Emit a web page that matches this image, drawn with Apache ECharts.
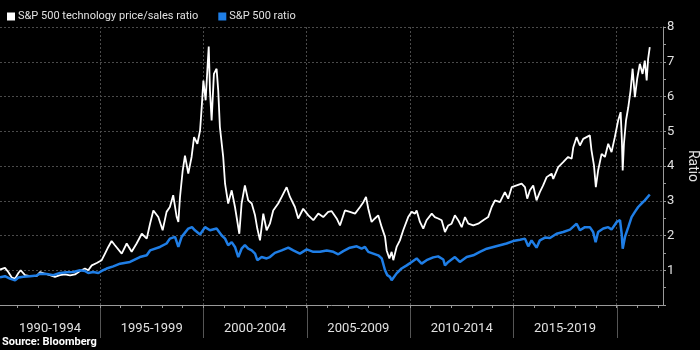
<!DOCTYPE html>
<html>
<head>
<meta charset="utf-8">
<script src="https://cdn.jsdelivr.net/npm/echarts@6/dist/echarts.min.js"></script>
<style>
  html, body { margin: 0; padding: 0; background: #000; }
  #main { width: 700px; height: 350px; }
</style>
</head>
<body>
<div id="main"></div>
<script>
// values (decimal year, ratio)
const techYears = [1990.16, 1990.40, 1990.56, 1990.73, 1990.89, 1991.05, 1991.16, 1991.37, 1991.61, 1991.94,
  1992.10, 1992.34, 1992.58, 1992.82, 1993.06, 1993.30, 1993.55, 1993.79, 1994.03, 1994.27,
  1994.43, 1994.60, 1994.84, 1995.08, 1995.24, 1995.40, 1995.56, 1995.72, 1995.81, 1996.05,
  1996.29, 1996.53, 1996.77, 1997.02, 1997.26, 1997.42, 1997.58, 1997.82, 1998.03, 1998.22,
  1998.38, 1998.54, 1998.71, 1998.79, 1998.87, 1999.00, 1999.11, 1999.27, 1999.43, 1999.55,
  1999.71, 1999.84, 1999.92, 2000.00, 2000.11, 2000.21, 2000.26, 2000.32, 2000.40, 2000.51,
  2000.64, 2000.72, 2000.80, 2000.96, 2001.05, 2001.20, 2001.37, 2001.53, 2001.74, 2001.85,
  2002.01, 2002.17, 2002.34, 2002.50, 2002.61, 2002.74, 2002.90, 2003.06, 2003.22, 2003.38,
  2003.62, 2003.79, 2004.03, 2004.19, 2004.43, 2004.59, 2004.83, 2005.08, 2005.32, 2005.56,
  2005.80, 2006.04, 2006.21, 2006.45, 2006.61, 2006.85, 2007.09, 2007.34, 2007.58, 2007.74,
  2007.87, 2007.98, 2008.14, 2008.30, 2008.46, 2008.63, 2008.79, 2008.87, 2009.00, 2009.11,
  2009.19, 2009.35, 2009.51, 2009.67, 2009.91, 2010.08, 2010.24, 2010.32, 2010.48, 2010.64,
  2010.80, 2011.05, 2011.20, 2011.36, 2011.53, 2011.69, 2011.85, 2012.01, 2012.17, 2012.33,
  2012.50, 2012.66, 2012.82, 2013.06, 2013.30, 2013.54, 2013.78, 2013.95, 2014.11, 2014.35,
  2014.59, 2014.75, 2014.92, 2015.16, 2015.40, 2015.56, 2015.67, 2015.80, 2015.96, 2016.12,
  2016.28, 2016.44, 2016.61, 2016.85, 2016.93, 2017.17, 2017.41, 2017.65, 2017.82, 2017.90,
  2018.06, 2018.22, 2018.38, 2018.54, 2018.70, 2018.78, 2018.90, 2018.99, 2019.10, 2019.27,
  2019.43, 2019.59, 2019.75, 2019.91, 2020.07, 2020.19, 2020.25, 2020.29, 2020.35, 2020.45,
  2020.56, 2020.67, 2020.77, 2020.88, 2020.99, 2021.12, 2021.25, 2021.36, 2021.45, 2021.52,
  2021.60]
const techRatio = [1.02, 1.07, 0.95, 0.79, 0.76, 0.92, 1.00, 0.86, 0.83, 0.84,
  0.95, 0.90, 0.86, 0.81, 0.86, 0.88, 0.85, 0.88, 0.98, 1.05,
  1.00, 1.14, 1.21, 1.29, 1.48, 1.67, 1.84, 1.72, 1.67, 1.48,
  1.77, 1.53, 1.77, 2.05, 1.91, 2.34, 2.72, 2.53, 2.15, 2.68,
  2.82, 3.16, 2.53, 2.39, 3.11, 3.87, 4.30, 3.78, 4.26, 4.83,
  4.64, 5.02, 5.69, 6.46, 5.89, 6.94, 7.44, 6.17, 5.31, 6.65,
  6.80, 6.17, 5.12, 4.26, 3.49, 2.92, 3.30, 2.82, 2.05, 2.92,
  3.44, 3.01, 2.92, 2.58, 2.20, 1.86, 2.63, 2.15, 2.34, 2.72,
  2.92, 3.11, 3.39, 3.11, 2.82, 2.49, 2.77, 2.58, 2.44, 2.63,
  2.53, 2.68, 2.70, 2.49, 2.29, 2.72, 2.68, 2.63, 2.82, 2.96,
  3.11, 2.77, 2.39, 2.49, 2.58, 2.24, 1.96, 1.57, 1.34, 1.53,
  1.29, 1.67, 1.86, 2.15, 2.53, 2.68, 2.63, 2.72, 2.39, 2.20,
  2.44, 2.63, 2.53, 2.49, 2.44, 2.10, 2.29, 2.34, 2.58, 2.44,
  2.24, 2.53, 2.34, 2.29, 2.34, 2.44, 2.53, 2.82, 3.01, 2.96,
  3.25, 3.06, 3.39, 3.44, 3.49, 3.39, 3.06, 3.30, 3.44, 3.01,
  3.25, 3.44, 3.68, 3.78, 3.63, 3.97, 4.11, 4.26, 4.21, 4.54,
  4.83, 4.59, 4.78, 4.83, 4.88, 4.45, 4.02, 3.39, 3.87, 4.35,
  4.26, 4.64, 4.40, 4.83, 5.31, 5.55, 4.74, 3.87, 4.64, 5.31,
  5.69, 6.17, 6.80, 5.98, 6.51, 6.94, 6.65, 7.03, 6.46, 7.08,
  7.42]

const spxYears = [1990.16, 1990.40, 1990.64, 1990.89, 1991.05, 1991.29, 1991.61, 1991.94, 1992.10, 1992.42,
  1992.74, 1993.06, 1993.39, 1993.71, 1994.03, 1994.27, 1994.43, 1994.67, 1994.92, 1995.08,
  1995.32, 1995.64, 1995.97, 1996.45, 1996.93, 1997.26, 1997.42, 1997.90, 1998.22, 1998.38,
  1998.63, 1998.79, 1998.95, 1999.27, 1999.45, 1999.59, 1999.84, 2000.08, 2000.32, 2000.64,
  2000.89, 2001.05, 2001.20, 2001.37, 2001.53, 2001.69, 2001.85, 2002.01, 2002.17, 2002.34,
  2002.50, 2002.61, 2002.82, 2003.06, 2003.22, 2003.46, 2003.79, 2004.11, 2004.35, 2004.67,
  2005.00, 2005.32, 2005.64, 2005.97, 2006.29, 2006.53, 2006.77, 2007.09, 2007.42, 2007.66,
  2007.82, 2007.98, 2008.22, 2008.46, 2008.63, 2008.79, 2008.90, 2009.03, 2009.11, 2009.19,
  2009.35, 2009.59, 2009.84, 2010.08, 2010.32, 2010.56, 2010.80, 2011.12, 2011.36, 2011.61,
  2011.69, 2011.85, 2012.17, 2012.41, 2012.74, 2013.06, 2013.38, 2013.71, 2014.03, 2014.35,
  2014.67, 2014.99, 2015.32, 2015.56, 2015.72, 2015.88, 2016.12, 2016.28, 2016.53, 2016.77,
  2017.09, 2017.41, 2017.74, 2018.06, 2018.22, 2018.46, 2018.70, 2018.86, 2018.98, 2019.10,
  2019.35, 2019.59, 2019.75, 2020.00, 2020.16, 2020.24, 2020.29, 2020.40, 2020.56, 2020.72,
  2020.88, 2021.04, 2021.20, 2021.36, 2021.60]
const spxRatio = [0.80, 0.83, 0.76, 0.71, 0.79, 0.81, 0.83, 0.85, 0.90, 0.89,
  0.86, 0.92, 0.94, 0.95, 1.00, 0.98, 0.92, 0.95, 0.92, 0.98,
  1.05, 1.11, 1.19, 1.24, 1.38, 1.43, 1.57, 1.67, 1.77, 1.91,
  1.96, 1.67, 1.96, 2.20, 2.24, 2.15, 2.03, 2.24, 2.15, 2.20,
  2.00, 1.91, 1.72, 1.81, 1.67, 1.38, 1.62, 1.72, 1.62, 1.57,
  1.48, 1.29, 1.38, 1.34, 1.38, 1.50, 1.57, 1.65, 1.57, 1.48,
  1.60, 1.53, 1.53, 1.57, 1.53, 1.46, 1.55, 1.65, 1.69, 1.62,
  1.67, 1.53, 1.48, 1.43, 1.34, 1.00, 0.86, 0.81, 0.71, 0.73,
  0.91, 1.05, 1.14, 1.24, 1.34, 1.19, 1.29, 1.37, 1.40, 1.31,
  1.14, 1.24, 1.38, 1.24, 1.38, 1.43, 1.53, 1.62, 1.67, 1.72,
  1.77, 1.84, 1.88, 1.91, 1.69, 1.86, 1.65, 1.86, 1.94, 1.93,
  2.05, 2.10, 2.17, 2.34, 2.15, 2.24, 2.24, 2.10, 1.81, 2.10,
  2.20, 2.24, 2.17, 2.39, 2.44, 2.05, 1.62, 1.96, 2.24, 2.53,
  2.68, 2.82, 2.92, 3.01, 3.18]

const periodLabels = ['1990-1994', '1995-1999', '2000-2004', '2005-2009', '2010-2014', '2015-2019']
const periodCenters = [1992.58, 1997.5, 2002.5, 2007.5, 2012.5, 2017.5]
const periodBreaks = [1995, 2000, 2005, 2010, 2015, 2020]
const yearTicks = []
for (let y = 1991; y <= 2022; y++) yearTicks.push(y)

const xMin = 1990.16
const xMax = 2022.24
const font = 'Roboto, "Liberation Sans", sans-serif'

function periodLabel (v) {
  let best = 0
  periodCenters.forEach((c, i) => {
    if (Math.abs(c - v) < Math.abs(periodCenters[best] - v)) best = i
  })
  return periodLabels[best]
}

const chart = echarts.init(document.getElementById('main'))

const option = {
  backgroundColor: '#000',
  animation: false,
  textStyle: { fontFamily: font },
  legend: {
    left: 2,
    top: 6,
    itemWidth: 8,
    itemHeight: 8,
    itemGap: 20,
    icon: 'rect',
    textStyle: { color: '#e0e0e0', fontSize: 11, fontFamily: font, padding: [0, 0, 0, -2] },
    data: ['S&P 500 technology price/sales ratio', 'S&P 500 ratio']
  },
  grid: { left: 0, right: 37, top: 27, bottom: 45, containLabel: false, outerBoundsMode: 'none' },
  xAxis: [
    {
      type: 'value',
      min: xMin,
      max: xMax,
      axisLine: { show: true, lineStyle: { color: '#9a9a9a', width: 1 } },
      axisTick: { show: true, length: 3, customValues: yearTicks, lineStyle: { color: '#9a9a9a' } },
      axisLabel: {
        show: true,
        customValues: periodCenters,
        margin: 17,
        color: '#e0e0e0',
        fontSize: 13,
        fontFamily: font,
        hideOverlap: false,
        showMinLabel: true,
        showMaxLabel: true,
        formatter: v => periodLabel(v)
      },
      splitLine: { show: false }
    },
    {
      type: 'value',
      min: xMin,
      max: xMax,
      axisLine: { show: false },
      axisTick: { show: false, customValues: periodBreaks },
      axisLabel: { show: false },
      splitLine: { show: true, lineStyle: { color: '#4a4a4a', type: [2, 2] } }
    }
  ],
  yAxis: {
    type: 'value',
    position: 'right',
    min: 0,
    max: 8,
    interval: 1,
    name: 'Ratio',
    nameLocation: 'middle',
    nameRotate: -90,
    nameGap: 21,
    nameTextStyle: { color: '#e0e0e0', fontSize: 14, fontFamily: font },
    axisLine: { show: true, lineStyle: { color: '#9a9a9a' } },
    axisTick: { show: true, length: 3, lineStyle: { color: '#9a9a9a' } },
    minorTick: { show: true, splitNumber: 2, length: 3, lineStyle: { color: '#9a9a9a' } },
    axisLabel: {
      color: '#e0e0e0',
      fontSize: 13,
      fontFamily: font,
      margin: 4,
      formatter: v => (v === 0 ? '' : v)
    },
    splitLine: { show: true, lineStyle: { color: '#4a4a4a', type: [2, 2] } }
  },
  series: [
    {
      name: 'S&P 500 technology price/sales ratio',
      type: 'line',
      xAxisIndex: 0,
      symbol: 'none',
      color: '#ffffff',
      lineStyle: { width: 1.8, color: '#ffffff' },
      data: techYears.map((y, i) => [y, techRatio[i]])
    },
    {
      name: 'S&P 500 ratio',
      type: 'line',
      xAxisIndex: 0,
      symbol: 'none',
      color: '#1f7ee6',
      lineStyle: { width: 2.5, color: '#1f7ee6' },
      data: spxYears.map((y, i) => [y, spxRatio[i]])
    }
  ]
}

chart.setOption(option)

// period separators below the x axis, placed through the axis scale
const axisY = chart.convertToPixel({ yAxisIndex: 0 }, 0)
const seps = periodBreaks.map(b => {
  const x = Math.round(chart.convertToPixel({ xAxisIndex: 0 }, b)) + 0.5
  return {
    type: 'line',
    shape: { x1: x, y1: axisY, x2: x, y2: axisY + 33 },
    style: { stroke: '#555', lineWidth: 1 }
  }
})
seps.push({
  type: 'text',
  left: 2,
  top: 337,
  style: { text: 'Source: Bloomberg', fill: '#ffffff', font: 'bold 11px ' + font }
})
chart.setOption({ graphic: seps })
</script>
</body>
</html>
